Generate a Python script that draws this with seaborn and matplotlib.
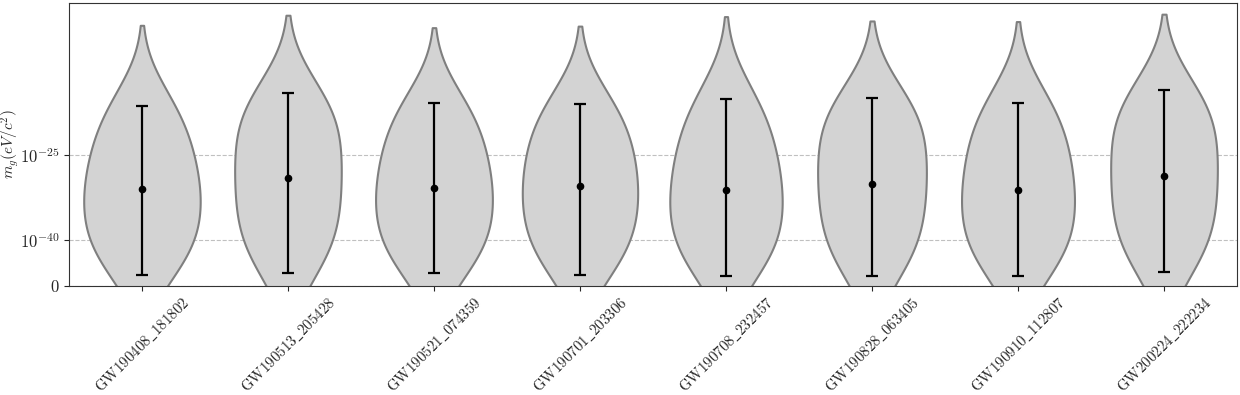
import numpy as np
import pandas as pd
import matplotlib
matplotlib.use('Agg')
import matplotlib.pyplot as plt
import seaborn as sns

events = ['GW190408_181802', 'GW190513_205428', 'GW190521_074359', 'GW190701_203306',
          'GW190708_232457', 'GW190828_063405', 'GW190910_112807', 'GW200224_222234']

# log10(m_g / eV c^-2) posterior samples (representative quantiles)
s_190408 = [-46.0, -43.8, -41.6, -39.5, -37.4, -35.4, -33.4, -31.4, -29.4, -27.3, -25.1, -22.7, -20.0, -17.2, -14.7]
s_190513 = [-45.5, -43.1, -40.7, -38.3, -35.9, -33.6, -31.3, -29.0, -26.7, -24.4, -22.1, -19.8, -17.5, -15.3, -13.6]
s_190521 = [-45.8, -43.6, -41.4, -39.3, -37.2, -35.2, -33.2, -31.2, -29.2, -27.1, -24.9, -22.5, -19.9, -17.2, -15.0]
s_190701 = [-45.8, -43.5, -41.2, -39.0, -36.9, -34.8, -32.7, -30.7, -28.7, -26.6, -24.4, -22.1, -19.6, -17.0, -14.8]
s_190708 = [-46.0, -43.8, -41.6, -39.5, -37.4, -35.3, -33.2, -31.1, -29.0, -26.8, -24.5, -22.0, -19.3, -16.5, -13.6]
s_190828 = [-45.8, -43.4, -41.0, -38.6, -36.2, -33.9, -31.6, -29.4, -27.2, -25.0, -22.7, -20.4, -18.1, -16.0, -14.4]
s_190910 = [-46.0, -43.8, -41.6, -39.5, -37.4, -35.3, -33.2, -31.1, -29.0, -26.8, -24.5, -22.1, -19.5, -16.8, -14.3]
s_200224 = [-45.2, -42.8, -40.4, -38.0, -35.6, -33.3, -31.0, -28.7, -26.4, -24.1, -21.8, -19.5, -17.2, -15.0, -13.4]

# median and 90% interval (log10)
med = [-31.0, -29.0, -30.8, -30.4, -31.1, -30.1, -31.1, -28.7]
lo = [-46.1, -45.8, -45.8, -46.1, -46.3, -46.3, -46.3, -45.6]
hi = [-16.3, -14.1, -15.9, -16.1, -15.2, -15.0, -15.9, -13.6]

y_ticks = [-48, -40, -25]
y_ticklabels = ['$0$', '$10^{-40}$', '$10^{-25}$']

samples = [s_190408, s_190513, s_190521, s_190701, s_190708, s_190828, s_190910, s_200224]
df = pd.DataFrame({'event': [e for e, s in zip(events, samples) for _ in s],
                   'logm': [v for s in samples for v in s]})

sns.set_style('ticks')
plt.rcParams['mathtext.fontset'] = 'cm'
plt.rcParams['font.family'] = ['serif']
plt.rcParams['font.serif'] = ['DejaVu Serif']
plt.rcParams['axes.unicode_minus'] = False

fig, ax = plt.subplots(figsize=(12.4, 3.95), dpi=100)
fig.subplots_adjust(left=0.0556, right=0.9976, top=0.992, bottom=0.276)

sns.violinplot(data=df, x='event', y='logm', order=events, inner=None, color='lightgray',
               linecolor='gray', linewidth=1.5, saturation=1, bw_adjust=1.1, ax=ax, zorder=2)
x = np.arange(len(events))
ax.errorbar(x, med, yerr=[np.subtract(med, lo), np.subtract(hi, med)], fmt='o', color='black',
            markersize=4.5, elinewidth=1.6, capsize=4, capthick=1.6, zorder=4)

ax.set_ylim(-48, 1.7)
ax.set_xlim(-0.5, 7.5)
ax.set_yticks(y_ticks)
ax.set_yticklabels(y_ticklabels, fontsize=12)
ax.set_xticks(x)
ax.set_xticklabels([r'$\mathrm{' + e.replace('_', r'\_') + '}$' for e in events], rotation=45, fontsize=10.8)
ax.tick_params(axis='x', pad=3)
ax.set_xlabel('')
ax.set_ylabel(r'$m_g(eV/c^2)$', fontsize=11)
ax.yaxis.set_label_coords(-0.041, 0.5)
ax.yaxis.grid(True, linestyle='--', color='#c0c0c0', linewidth=0.8, zorder=0)
ax.set_axisbelow(True)
for sp in ax.spines.values():
    sp.set_visible(True)
    sp.set_color('#333333')

plt.savefig('out.png', dpi=100)
